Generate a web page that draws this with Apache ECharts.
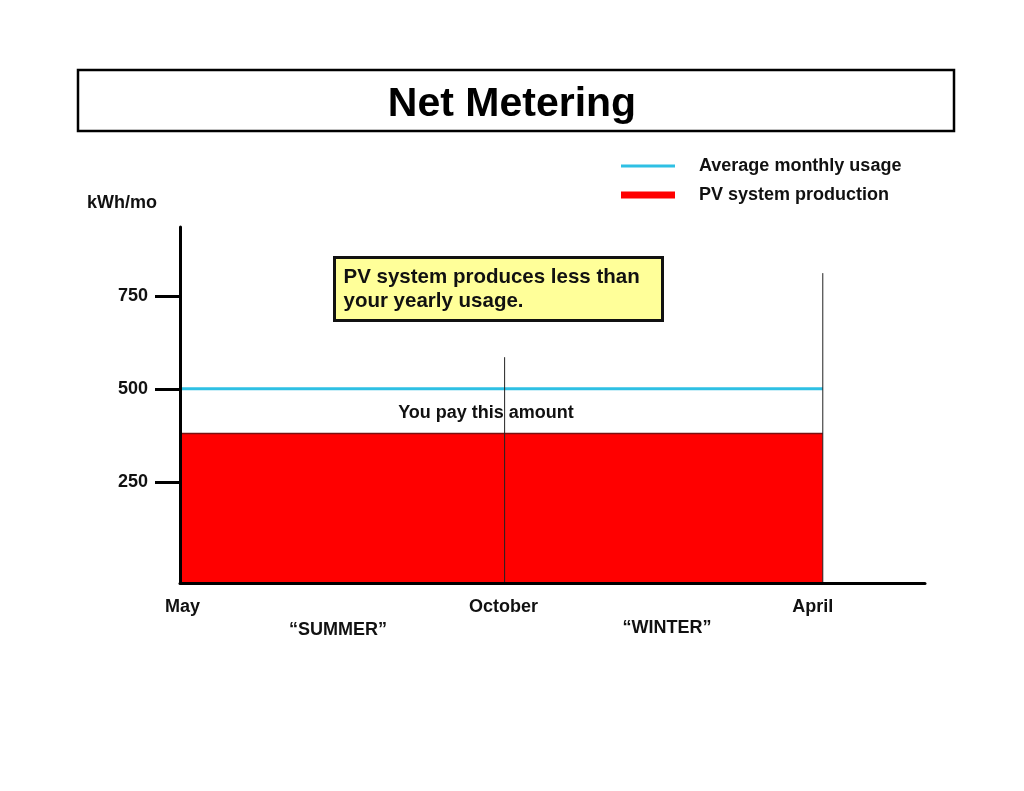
<!DOCTYPE html>
<html>
<head>
<meta charset="utf-8">
<title>Net Metering</title>
<script src="https://cdn.jsdelivr.net/npm/echarts@6/dist/echarts.min.js"></script>
<style>
  html, body { margin: 0; padding: 0; background: #fff; }
  #chart { width: 1024px; height: 791px; }
</style>
</head>
<body>
<div id="chart"></div>
<script>
'use strict';
/* Net metering chart */

// month labels and where they sit along the year (percent of May..April span)
var monthNames = ['May', 'October', 'April'];
var monthPos = [0, 50.5, 100];
var yTicks = [250, 500, 750];

// series values (kWh/mo)
var avgUsage = [500, 500];
var pvProduction = [380, 380];
// thin divider lines at October and April, height they reach
var dividerTops = [585, 811];

var yMin = -22;
var yMax = 935;
var fontFam = '"Liberation Sans", Arial, sans-serif';

var chart = echarts.init(document.getElementById('chart'));

var avgData = [[monthPos[0], avgUsage[0]], [monthPos[2], avgUsage[1]]];
var pvData = [[monthPos[0], pvProduction[0]], [monthPos[2], pvProduction[1]]];

var option = {
  backgroundColor: '#fff',
  animation: false,
  title: {
    text: 'Net Metering',
    left: 'center',
    top: 79,
    textStyle: {
      fontFamily: fontFam,
      fontSize: 41,
      fontWeight: 'bold',
      color: '#000'
    }
  },
  legend: [{
    data: [{ name: 'Average monthly usage', itemStyle: { color: '#2ec0e4' } }],
    left: 616,
    top: 152,
    icon: 'rect',
    itemWidth: 54,
    itemHeight: 3,
    selectedMode: false,
    textStyle: {
      fontFamily: fontFam,
      fontSize: 18,
      fontWeight: 'bold',
      color: '#111',
      padding: [0, 0, 0, 19]
    }
  }, {
    data: [{ name: 'PV system production', itemStyle: { color: '#ff0000' } }],
    left: 616,
    top: 181,
    icon: 'rect',
    itemWidth: 54,
    itemHeight: 7,
    selectedMode: false,
    textStyle: {
      fontFamily: fontFam,
      fontSize: 18,
      fontWeight: 'bold',
      color: '#111',
      padding: [0, 0, 0, 19]
    }
  }],
  grid: {
    left: 180,
    right: 99,
    top: 227,
    bottom: 208
  },
  xAxis: {
    type: 'value',
    min: 0,
    max: 115.9,
    z: 5,
    splitLine: { show: false },
    axisLine: { show: true, onZero: false, lineStyle: { color: '#000', width: 3 } },
    axisTick: { show: false },
    axisLabel: {
      customValues: monthPos,
      margin: 15,
      fontFamily: fontFam,
      fontSize: 18,
      fontWeight: 'bold',
      color: '#111',
      formatter: function(v) {
        var i = monthPos.indexOf(v);
        if (i < 0) return '';
        return '{m' + i + '|' + monthNames[i] + '}';
      },
      rich: {
        m0: { fontFamily: fontFam, fontSize: 18, fontWeight: 'bold', color: '#111', padding: [0, 0, 0, 5] },
        m1: { fontFamily: fontFam, fontSize: 18, fontWeight: 'bold', color: '#111', padding: [0, 2, 0, 0] },
        m2: { fontFamily: fontFam, fontSize: 18, fontWeight: 'bold', color: '#111', padding: [0, 20, 0, 0] }
      }
    }
  },
  yAxis: {
    type: 'value',
    min: yMin,
    max: yMax,
    z: 5,
    splitLine: { show: false },
    axisLine: { show: true, onZero: false, lineStyle: { color: '#000', width: 3 } },
    axisTick: {
      show: true,
      customValues: yTicks,
      length: 25,
      lineStyle: { color: '#000', width: 3 }
    },
    axisLabel: {
      customValues: yTicks,
      margin: 32,
      fontFamily: fontFam,
      fontSize: 18,
      fontWeight: 'bold',
      color: '#111'
    }
  },
  series: [{
    name: 'PV system production',
    type: 'line',
    data: pvData,
    symbol: 'none',
    silent: true,
    itemStyle: { color: '#ff0000' },
    lineStyle: { color: '#7a1010', width: 1.5 },
    areaStyle: { color: '#ff0000', opacity: 1, origin: 'start' },
    z: 2
  }, {
    name: 'Average monthly usage',
    type: 'line',
    data: avgData,
    symbol: 'none',
    silent: true,
    itemStyle: { color: '#2ec0e4' },
    lineStyle: { color: '#2ec0e4', width: 3 },
    z: 3
  }, {
    name: 'October divider',
    type: 'line',
    data: [[monthPos[1], yMin], [monthPos[1], dividerTops[0]]],
    symbol: 'none',
    silent: true,
    lineStyle: { color: '#222', width: 1 },
    z: 4
  }, {
    name: 'April divider',
    type: 'line',
    data: [[monthPos[2], yMin], [monthPos[2], dividerTops[1]]],
    symbol: 'none',
    silent: true,
    lineStyle: { color: '#222', width: 1 },
    z: 4
  }],
  graphic: [{
    type: 'rect',
    shape: { x: 78, y: 70, width: 876, height: 61 },
    style: { fill: 'none', stroke: '#000', lineWidth: 2.5 },
    z: 10
  }, {
    type: 'text',
    left: 87,
    top: 194,
    style: {
      text: 'kWh/mo',
      font: 'bold 18px ' + fontFam,
      fill: '#111'
    }
  }, {
    type: 'group',
    left: 333,
    top: 256,
    children: [{
      type: 'rect',
      shape: { x: 0, y: 0, width: 328, height: 63 },
      style: { fill: '#ffff99', stroke: '#111', lineWidth: 3 }
    }, {
      type: 'text',
      x: 9,
      y: 8,
      style: {
        text: 'PV system produces less than\nyour yearly usage.',
        font: 'bold 20.5px ' + fontFam,
        lineHeight: 24,
        fill: '#111'
      }
    }],
    z: 10
  }, {
    type: 'text',
    x: 486,
    y: 413,
    style: {
      text: 'You pay this amount',
      font: 'bold 18px ' + fontFam,
      fill: '#111',
      align: 'center',
      verticalAlign: 'middle'
    },
    z: 10
  }, {
    type: 'text',
    x: 338,
    y: 630,
    style: {
      text: '\u201cSUMMER\u201d',
      font: 'bold 18px ' + fontFam,
      fill: '#111',
      align: 'center',
      verticalAlign: 'middle'
    }
  }, {
    type: 'text',
    x: 667,
    y: 628,
    style: {
      text: '\u201cWINTER\u201d',
      font: 'bold 18px ' + fontFam,
      fill: '#111',
      align: 'center',
      verticalAlign: 'middle'
    }
  }]
};

chart.setOption(option);
</script>
</body>
</html>
